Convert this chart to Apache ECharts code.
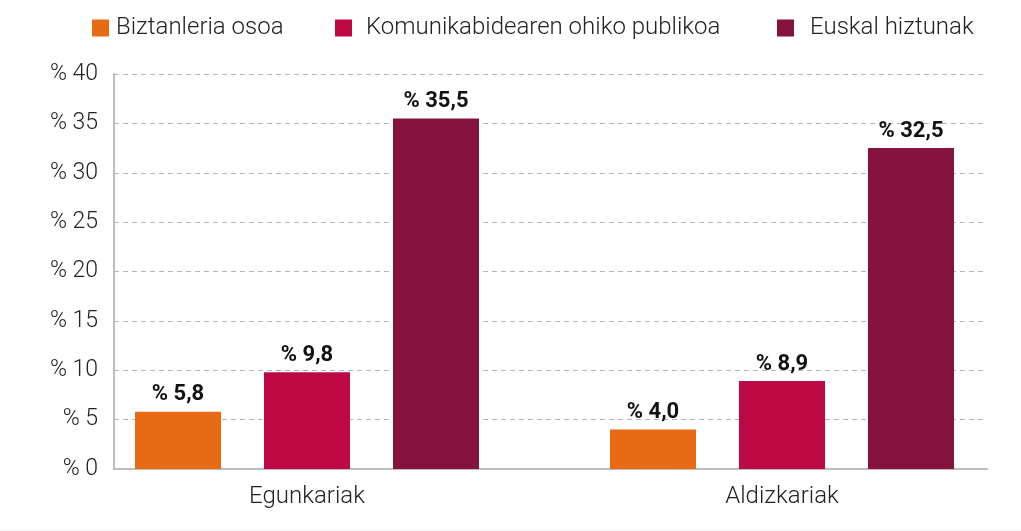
<!DOCTYPE html>
<html>
<head>
<meta charset="utf-8">
<script src="https://cdn.jsdelivr.net/npm/echarts@6/dist/echarts.min.js"></script>
<style>
  html, body { margin: 0; padding: 0; background: #fff; }
  #chart { width: 1021px; height: 530px; border-bottom: 1px solid #f0f0f0; }
</style>
</head>
<body>
<div id="chart"></div>
<script>
// Media categories and share of each audience group (%)
const categories = ['Egunkariak', 'Aldizkariak'];
const seriesNames = ['Biztanleria osoa', 'Komunikabidearen ohiko publikoa', 'Euskal hiztunak'];
const biztanleria = [5.8, 4.0];
const ohikoPublikoa = [9.8, 8.9];
const euskalHiztunak = [35.5, 32.5];
const colors = ['#E96A15', '#BE0843', '#86133E'];

const font = 'Roboto, "Noto Sans", sans-serif';
const fmt = v => '% ' + v.toFixed(1).replace('.', ',');

const chart = echarts.init(document.getElementById('chart'), null, { renderer: 'canvas' });

function bar(name, data, color) {
  return {
    name, type: 'bar', data,
    xAxisIndex: 1, yAxisIndex: 1,
    barWidth: 86, barGap: '50%',
    itemStyle: { color },
    label: {
      show: true, position: 'top', distance: 6,
      formatter: p => fmt(p.value),
      fontFamily: font, fontWeight: 'bold', fontSize: 22, color: '#111'
    }
  };
}

// one legend entry per series, each placed on its own
function legendItem(name, left, textGap) {
  return {
    top: 16, left, padding: 0,
    itemWidth: 17, itemHeight: 17,
    icon: 'rect',
    textStyle: { fontFamily: font, fontSize: 24, fontWeight: 300, color: '#222', padding: [0, 0, 0, textGap] },
    data: [name]
  };
}

chart.setOption({
  animation: false,
  legend: [
    legendItem(seriesNames[0], 92, 2),
    legendItem(seriesNames[1], 335, 9),
    legendItem(seriesNames[2], 777, 11)
  ],
  grid: [
    // frame with value axis, gridlines and axis lines
    { left: 114, right: 34, top: 74, bottom: 61, containLabel: false },
    // bar placement grid
    { left: 69.5, right: 1.5, top: 74, bottom: 61, containLabel: false }
  ],
  xAxis: [
    {
      gridIndex: 0, type: 'value', min: 0, max: 1,
      axisLine: { show: true, lineStyle: { color: '#bdbdbd', width: 2 } },
      axisTick: { show: false }, axisLabel: { show: false }, splitLine: { show: false }
    },
    {
      gridIndex: 1, type: 'category', data: categories,
      axisLine: { show: false }, axisTick: { show: false },
      axisLabel: { margin: 16, fontFamily: font, fontSize: 24, fontWeight: 300, color: '#222' }
    }
  ],
  yAxis: [
    {
      gridIndex: 0, type: 'value', min: 0, max: 40, interval: 5,
      axisLine: { show: true, lineStyle: { color: '#bdbdbd', width: 2 } },
      axisTick: { show: false },
      axisLabel: { margin: 16, formatter: v => '% ' + v, fontFamily: font, fontSize: 23, fontWeight: 300, color: '#222' },
      splitLine: { show: true, lineStyle: { color: '#b5b5b5', type: [5, 4], width: 1 } }
    },
    {
      gridIndex: 1, type: 'value', min: 0, max: 40, interval: 5, show: false
    }
  ],
  series: [
    bar(seriesNames[0], biztanleria, colors[0]),
    bar(seriesNames[1], ohikoPublikoa, colors[1]),
    bar(seriesNames[2], euskalHiztunak, colors[2])
  ]
});
</script>
</body>
</html>
